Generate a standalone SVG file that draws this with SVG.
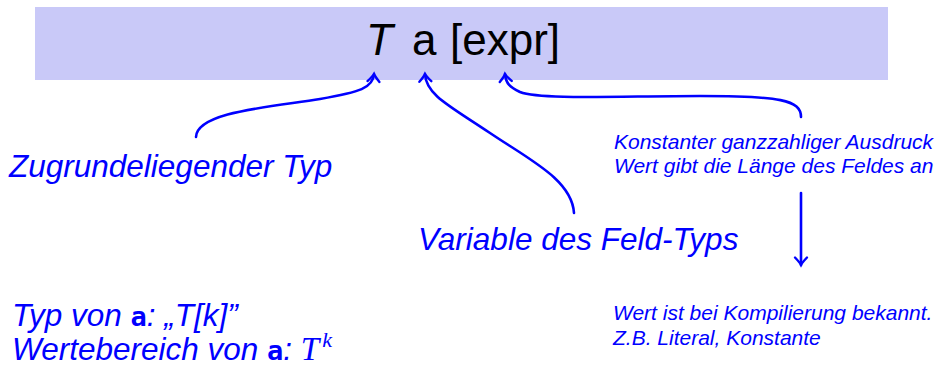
<svg xmlns="http://www.w3.org/2000/svg" width="939" height="366" viewBox="0 0 939 366">
  <style>
    .note { font-family: "Liberation Sans", Arial, sans-serif; font-style: italic; fill: #0000ff; }
    .big { font-size: 31.5px; }
    .small { font-size: 21px; }
    .link { fill: none; stroke: #0000ff; stroke-width: 2.6; stroke-linecap: round; marker-end: url(#tip); }
  </style>
  <defs>
    <marker id="tip" markerUnits="userSpaceOnUse" viewBox="-9 -7 11 14" markerWidth="11" markerHeight="14" refX="0" refY="0" orient="auto" overflow="visible">
      <path d="M-7.5,-6 Q-2.5,-1.2 0,0 Q-2.5,1.2 -7.5,6" fill="none" stroke="#0000ff" stroke-width="2.4" stroke-linecap="round"/>
    </marker>
  </defs>

  <!-- declaration bar -->
  <g id="declaration">
    <rect x="35" y="7" width="853" height="73" fill="#c9c9f8"/>
    <text y="55" font-family="Liberation Sans, Arial, sans-serif" font-size="44" fill="#000">
      <tspan x="366" font-style="italic">T</tspan><tspan x="412">a</tspan><tspan x="450">[expr]</tspan>
    </text>
  </g>

  <g id="base-type">
    <text class="note big" x="9" y="177">Zugrundeliegender Typ</text>
  </g>

  <g id="variable">
    <text class="note big" x="418" y="250">Variable des Feld-Typs</text>
  </g>

  <g id="size-expr">
    <text class="note small" x="614" y="149">Konstanter ganzzahliger Ausdruck</text>
    <text class="note small" x="614" y="173">Wert gibt die Länge des Feldes an</text>
  </g>

  <g id="compile-time">
    <text class="note small" x="613" y="320">Wert ist bei Kompilierung bekannt.</text>
    <text class="note small" x="613" y="345">Z.B. Literal, Konstante</text>
  </g>

  <g id="type-info">
    <text class="note big" x="12" y="326">Typ von <tspan font-family="DejaVu Sans Mono, monospace" font-style="normal" font-weight="bold" font-size="27">a</tspan>: „T[k]”</text>
    <text class="note big" x="12" y="360">Wertebereich von <tspan font-family="DejaVu Sans Mono, monospace" font-style="normal" font-weight="bold" font-size="27">a</tspan>: <tspan font-family="Liberation Serif, Times New Roman, serif" font-size="33">T</tspan><tspan font-family="Liberation Serif, Times New Roman, serif" font-size="22" dx="3" dy="-13">k</tspan></text>
  </g>

  <!-- connectors -->
  <g id="connectors">
    <path class="link" d="M196,137 C197,112 270,107 320,99 C360,92 373,88 374,74"/>
    <path class="link" d="M574,213 C572,180 530,160 490,133 C450,106 426,95 425,74"/>
    <path class="link" d="M801,117 C801,100 780,96 700,96 C620,96 540,100 520,92 C510,87 506,84 505,74"/>
    <path class="link" d="M801,193 L801,265"/>
  </g>
</svg>
